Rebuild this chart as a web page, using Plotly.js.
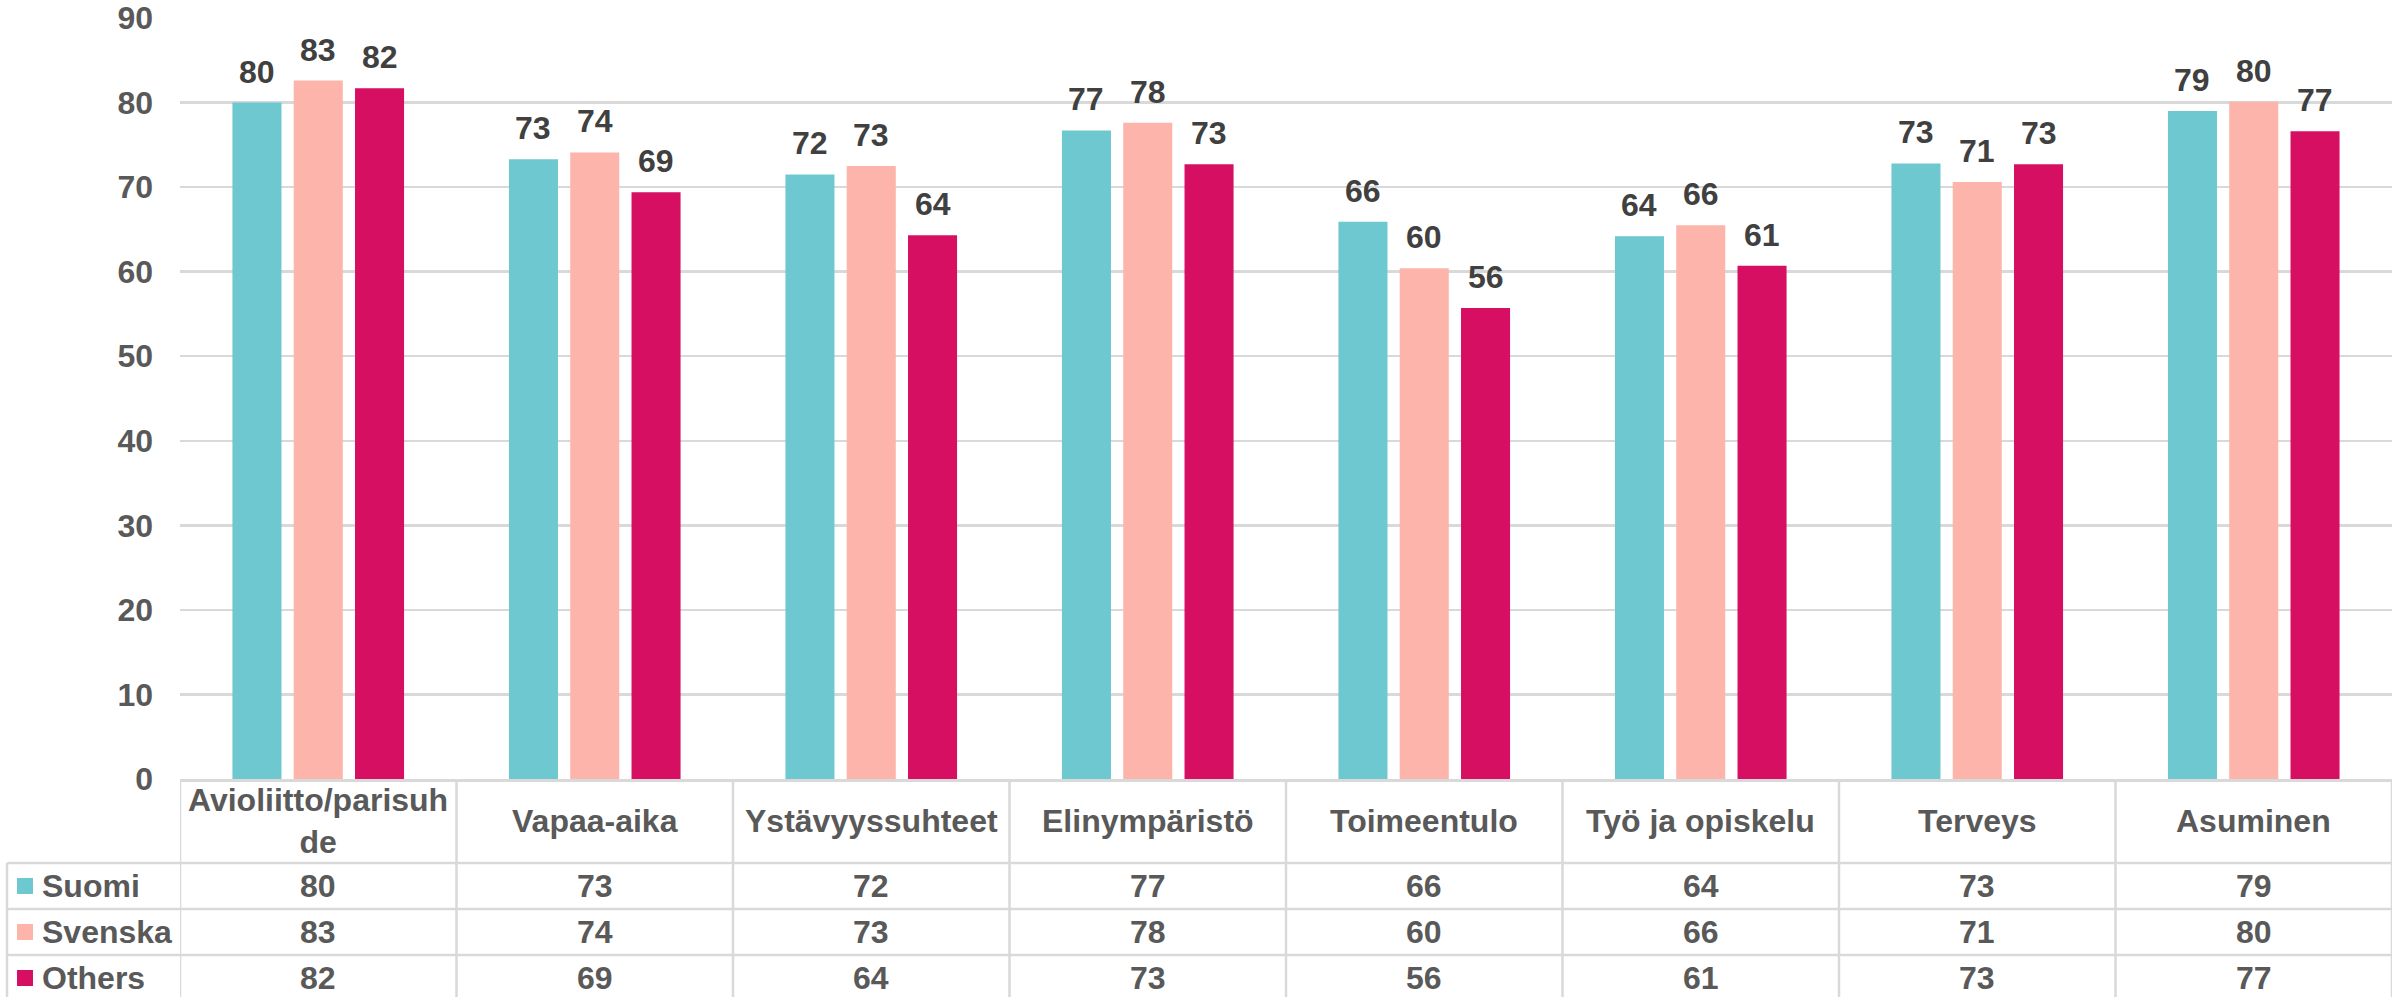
<!DOCTYPE html>
<html>
<head>
<meta charset="utf-8">
<script src="https://cdn.plot.ly/plotly-3.0.1.min.js"></script>
<style>
  html, body { margin: 0; padding: 0; background: #fff; }
  #chart { width: 2400px; height: 997px; }
</style>
</head>
<body>
<div id="chart"></div>
<script>
// values (bars are unrounded, labels show whole numbers)
const categories = ['Avioliitto/parisuh<br>de', 'Vapaa-aika', 'Ystävyyssuhteet', 'Elinympäristö',
                    'Toimeentulo', 'Työ ja opiskelu', 'Terveys', 'Asuminen'];
const suomi   = [80.0, 73.3, 71.5, 76.7, 65.9, 64.2, 72.8, 79.0];
const svenska = [82.6, 74.1, 72.5, 77.6, 60.4, 65.5, 70.6, 80.1];
const others  = [81.7, 69.4, 64.3, 72.7, 55.7, 60.7, 72.7, 76.6];
const seriesNames = ['Suomi', 'Svenska', 'Others'];
const seriesColors = ['#6ec8d0', '#fdb4aa', '#d60f62'];
const yTicks = [0, 10, 20, 30, 40, 50, 60, 70, 80, 90];

const W = 2400, H = 997;
const M = {l: 180, r: 8, t: 18, b: 218};
const plotW = W - M.l - M.r;
const plotH = H - M.t - M.b;
const below = d => -d / plotH;           // px below the x axis -> paper y
const paperX = px => (px - M.l) / plotW; // px from the left -> paper x

const FONT = 'Liberation Sans, Arial, sans-serif';
const GRID = '#d9d9d9';
const BARGAP = 0.335;
const TXT = 32;

const values = [suomi, svenska, others];

const data = values.map((v, j) => ({
  type: 'bar',
  name: seriesNames[j],
  x: categories,
  y: v,
  marker: {color: seriesColors[j]},
  hoverinfo: 'y+name'
}));

// table geometry (px below the axis)
const headerH = 84, rowH = 46;
const tableLeft = paperX(7);

const shapes = [];
const annotations = [];

const line = (xref, x0, x1, y0, y1, w) =>
  shapes.push({type: 'line', xref: xref, yref: 'paper', x0: x0, x1: x1, y0: y0, y1: y1,
               line: {color: GRID, width: w || 2.5}});

// vertical lines of the table
for (let i = 0; i <= categories.length; i++) {
  line('x', i - 0.5, i - 0.5, 0, below(headerH + rowH * 3 + 10));
}
line('paper', tableLeft, tableLeft, below(headerH), below(headerH + rowH * 3 + 10));
// horizontal lines of the table
for (let k = 0; k < 3; k++) {
  line('paper', tableLeft, 1, below(headerH + rowH * k), below(headerH + rowH * k));
}

// header labels
categories.forEach((c, i) => {
  annotations.push({
    xref: 'x', yref: 'paper', x: i, y: below(headerH / 2),
    xanchor: 'center', yanchor: 'middle', showarrow: false,
    text: c, font: {family: FONT, size: TXT, color: '#595959', weight: 'bold'}
  });
});

// rows: legend key, series name, values
values.forEach((v, j) => {
  const yc = below(headerH + rowH * j + rowH / 2);
  shapes.push({
    type: 'rect', xref: 'paper', yref: 'paper',
    x0: paperX(17), x1: paperX(33),
    y0: yc - 8 / plotH, y1: yc + 8 / plotH,
    fillcolor: seriesColors[j], line: {width: 0}
  });
  annotations.push({
    xref: 'paper', yref: 'paper', x: paperX(40), y: yc,
    xanchor: 'left', yanchor: 'middle', showarrow: false,
    text: seriesNames[j], font: {family: FONT, size: TXT, color: '#595959', weight: 'bold'}
  });
  v.forEach((val, i) => {
    annotations.push({
      xref: 'x', yref: 'paper', x: i, y: yc,
      xanchor: 'center', yanchor: 'middle', showarrow: false,
      text: String(Math.round(val)), font: {family: FONT, size: TXT, color: '#595959', weight: 'bold'}
    });
    // data label above the bar
    annotations.push({
      xref: 'x', yref: 'y', x: i + (j - 1) * (1 - BARGAP) / 3, y: val,
      xanchor: 'center', yanchor: 'bottom', showarrow: false, yshift: 11,
      text: String(Math.round(val)), font: {family: FONT, size: TXT, color: '#404040', weight: 'bold'}
    });
  });
});

const layout = {
  width: W,
  height: H,
  margin: M,
  paper_bgcolor: '#ffffff',
  plot_bgcolor: '#ffffff',
  barmode: 'group',
  bargap: BARGAP,
  bargroupgap: 0.2,
  showlegend: false,
  xaxis: {
    type: 'category',
    range: [-0.5, categories.length - 0.5],
    showticklabels: false,
    showgrid: false,
    zeroline: false,
    showline: true,
    linecolor: GRID,
    linewidth: 3,
    fixedrange: true
  },
  yaxis: {
    range: [0, 90],
    tickvals: yTicks,
    showgrid: true,
    gridcolor: GRID,
    gridwidth: 2.5,
    zeroline: false,
    showline: false,
    ticks: '',
    ticklabelstandoff: 26,
    tickfont: {family: FONT, size: TXT, color: '#595959', weight: 'bold'},
    fixedrange: true
  },
  shapes: shapes,
  annotations: annotations
};

Plotly.newPlot('chart', data, layout, {displayModeBar: false, staticPlot: true});
</script>
</body>
</html>
